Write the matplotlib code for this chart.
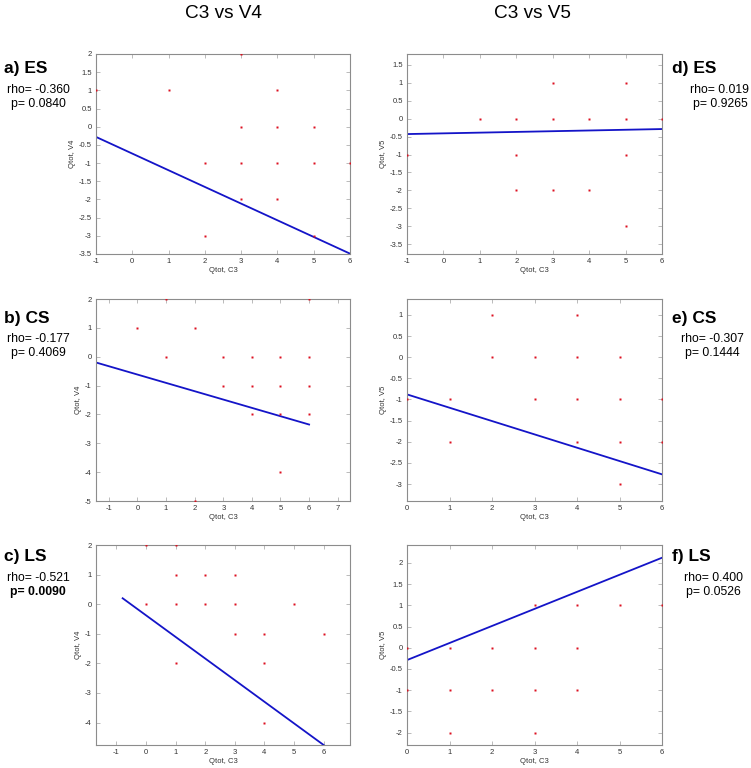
import matplotlib
matplotlib.use("Agg")
import matplotlib.pyplot as plt
import numpy as np

plt.rcParams['font.family'] = ['Liberation Sans', 'DejaVu Sans']

# ---- data ----
a_x = [-1, 1, 2, 2, 3, 3, 3, 3, 4, 4, 4, 4, 5, 5, 5, 6]
a_y = [1, 1, -1, -3, 2, 0, -1, -2, 1, 0, -1, -2, 0, -1, -3, -1]
a_fit_x = [-1, 6]
a_fit_y = [-0.28, -3.49]

d_x = [-1, 1, 2, 2, 2, 3, 3, 3, 4, 4, 5, 5, 5, 5, 6]
d_y = [-1, 0, 0, -1, -2, 1, 0, -2, 0, -2, 1, 0, -1, -3, 0]
d_fit_x = [-1, 6]
d_fit_y = [-0.43, -0.29]

b_x = [0, 1, 1, 2, 2, 3, 3, 4, 4, 4, 5, 5, 5, 5, 6, 6, 6, 6]
b_y = [1, 2, 0, 1, -5, 0, -1, 0, -1, -2, 0, -1, -2, -4, 2, 0, -1, -2]
b_fit_x = [-1.45, 6]
b_fit_y = [-0.2, -2.35]

e_x = [0, 1, 1, 2, 2, 3, 3, 4, 4, 4, 4, 5, 5, 5, 5, 6, 6]
e_y = [-1, -1, -2, 1, 0, 0, -1, 1, 0, -1, -2, 0, -1, -2, -3, -1, -2]
e_fit_x = [0, 6]
e_fit_y = [-0.88, -2.77]

c_x = [0, 0, 1, 1, 1, 1, 2, 2, 3, 3, 3, 4, 4, 4, 5, 6]
c_y = [2, 0, 2, 1, 0, -2, 1, 0, 1, 0, -1, -1, -2, -4, 0, -1]
c_fit_x = [-0.79, 6]
c_fit_y = [0.2, -4.76]

f_x = [0, 0, 1, 1, 1, 2, 2, 3, 3, 3, 3, 4, 4, 4, 5, 6]
f_y = [0, -1, 0, -1, -2, 0, -1, 1, 0, -1, -2, 1, 0, -1, 1, 1]
f_fit_x = [0, 6]
f_fit_y = [-0.29, 2.12]

panel_labels = ["a) ES", "b) CS", "c) LS", "d) ES", "e) CS", "f) LS"]
rho_vals = ["-0.360", "-0.177", "-0.521", "0.019", "-0.307", "0.400"]
p_vals = ["0.0840", "0.4069", "0.0090", "0.9265", "0.1444", "0.0526"]
col_titles = ["C3 vs V4", "C3 vs V5"]
xlabel = "Qtot, C3"
ylabels = ["Qtot, V4", "Qtot, V5"]

W, H = 751, 768
fig = plt.figure(figsize=(W / 100, H / 100), dpi=100)

def rect(x0, y0, x1, y1):
    return [x0 / W, 1 - y1 / H, (x1 - x0) / W, (y1 - y0) / H]

panels = [
    dict(r=rect(96, 54, 350, 254), x=a_x, y=a_y, fx=a_fit_x, fy=a_fit_y,
         xlim=(-1, 6), ylim=(-3.5, 2), xt=np.arange(-1, 7), yt=np.arange(-3.5, 2.01, 0.5), col=0),
    dict(r=rect(96, 299, 350, 501), x=b_x, y=b_y, fx=b_fit_x, fy=b_fit_y,
         xlim=(-1.45, 7.43), ylim=(-5, 2), xt=np.arange(-1, 8), yt=np.arange(-5, 3), col=0),
    dict(r=rect(96, 545, 350, 745), x=c_x, y=c_y, fx=c_fit_x, fy=c_fit_y,
         xlim=(-1.69, 6.89), ylim=(-4.76, 2), xt=np.arange(-1, 7), yt=np.arange(-4, 3), col=0),
    dict(r=rect(407, 54, 662, 254), x=d_x, y=d_y, fx=d_fit_x, fy=d_fit_y,
         xlim=(-1, 6), ylim=(-3.77, 1.8), xt=np.arange(-1, 7), yt=np.arange(-3.5, 1.51, 0.5), col=1),
    dict(r=rect(407, 299, 662, 501), x=e_x, y=e_y, fx=e_fit_x, fy=e_fit_y,
         xlim=(0, 6), ylim=(-3.4, 1.375), xt=np.arange(0, 7), yt=np.arange(-3, 1.01, 0.5), col=1),
    dict(r=rect(407, 545, 662, 745), x=f_x, y=f_y, fx=f_fit_x, fy=f_fit_y,
         xlim=(0, 6), ylim=(-2.29, 2.42), xt=np.arange(0, 7), yt=np.arange(-2, 2.01, 0.5), col=1),
]

def fmt(v):
    return '%g' % round(v, 2)

spine_c = '#8c8c8c'
for i, p in enumerate(panels):
    ax = fig.add_axes(p['r'])
    ax.plot(p['fx'], p['fy'], color='#1414c8', lw=1.3, zorder=2)
    ax.plot(p['x'], p['y'], ls='none', marker='s', ms=2.0, color='#dd1020', mec='none', zorder=3)
    ax.set_xlim(*p['xlim'])
    ax.set_ylim(*p['ylim'])
    ax.set_xticks(p['xt'])
    ax.set_xticklabels([fmt(v) for v in p['xt']])
    ax.set_yticks(p['yt'])
    ax.set_yticklabels([fmt(v) for v in p['yt']])
    for s in ax.spines.values():
        s.set_color(spine_c)
        s.set_linewidth(0.8)
    ax.tick_params(direction='in', length=3, width=0.6, color='#b0b0b0',
                   labelsize=5.5, labelcolor='#333333', top=True, right=True, pad=3)
    ax.set_xlabel(xlabel, fontsize=5.5, color='#333333', labelpad=1)
    ax.set_ylabel(ylabels[p['col']], fontsize=5.5, color='#333333', labelpad=2)

# column titles
fig.text(223 / W, 1 - 13 / H, col_titles[0], fontsize=13.7, ha='center', va='center')
fig.text(532 / W, 1 - 13 / H, col_titles[1], fontsize=13.7, ha='center', va='center')

# panel annotations
label_y = [69, 318, 557]
for k in range(3):
    y0 = label_y[k]
    fig.text(4 / W, 1 - y0 / H, panel_labels[k], fontsize=12.5, fontweight='bold', ha='left', va='center')
    fig.text(38 / W, 1 - (y0 + 21) / H, "rho= " + rho_vals[k], fontsize=8.8, ha='center', va='center')
    fig.text(38 / W, 1 - (y0 + 35) / H, "p= " + p_vals[k], fontsize=8.8, ha='center', va='center',
             fontweight='bold' if k == 2 else 'normal')
rtext_x = [720, 712, 713]
for k in range(3):
    y0 = label_y[k]
    fig.text(672 / W, 1 - y0 / H, panel_labels[k + 3], fontsize=12.5, fontweight='bold', ha='left', va='center')
    fig.text(rtext_x[k] / W, 1 - (y0 + 21) / H, "rho= " + rho_vals[k + 3], fontsize=8.8, ha='center', va='center')
    fig.text(rtext_x[k] / W, 1 - (y0 + 35) / H, "p= " + p_vals[k + 3], fontsize=8.8, ha='center', va='center')

fig.savefig("out.png", dpi=100)
